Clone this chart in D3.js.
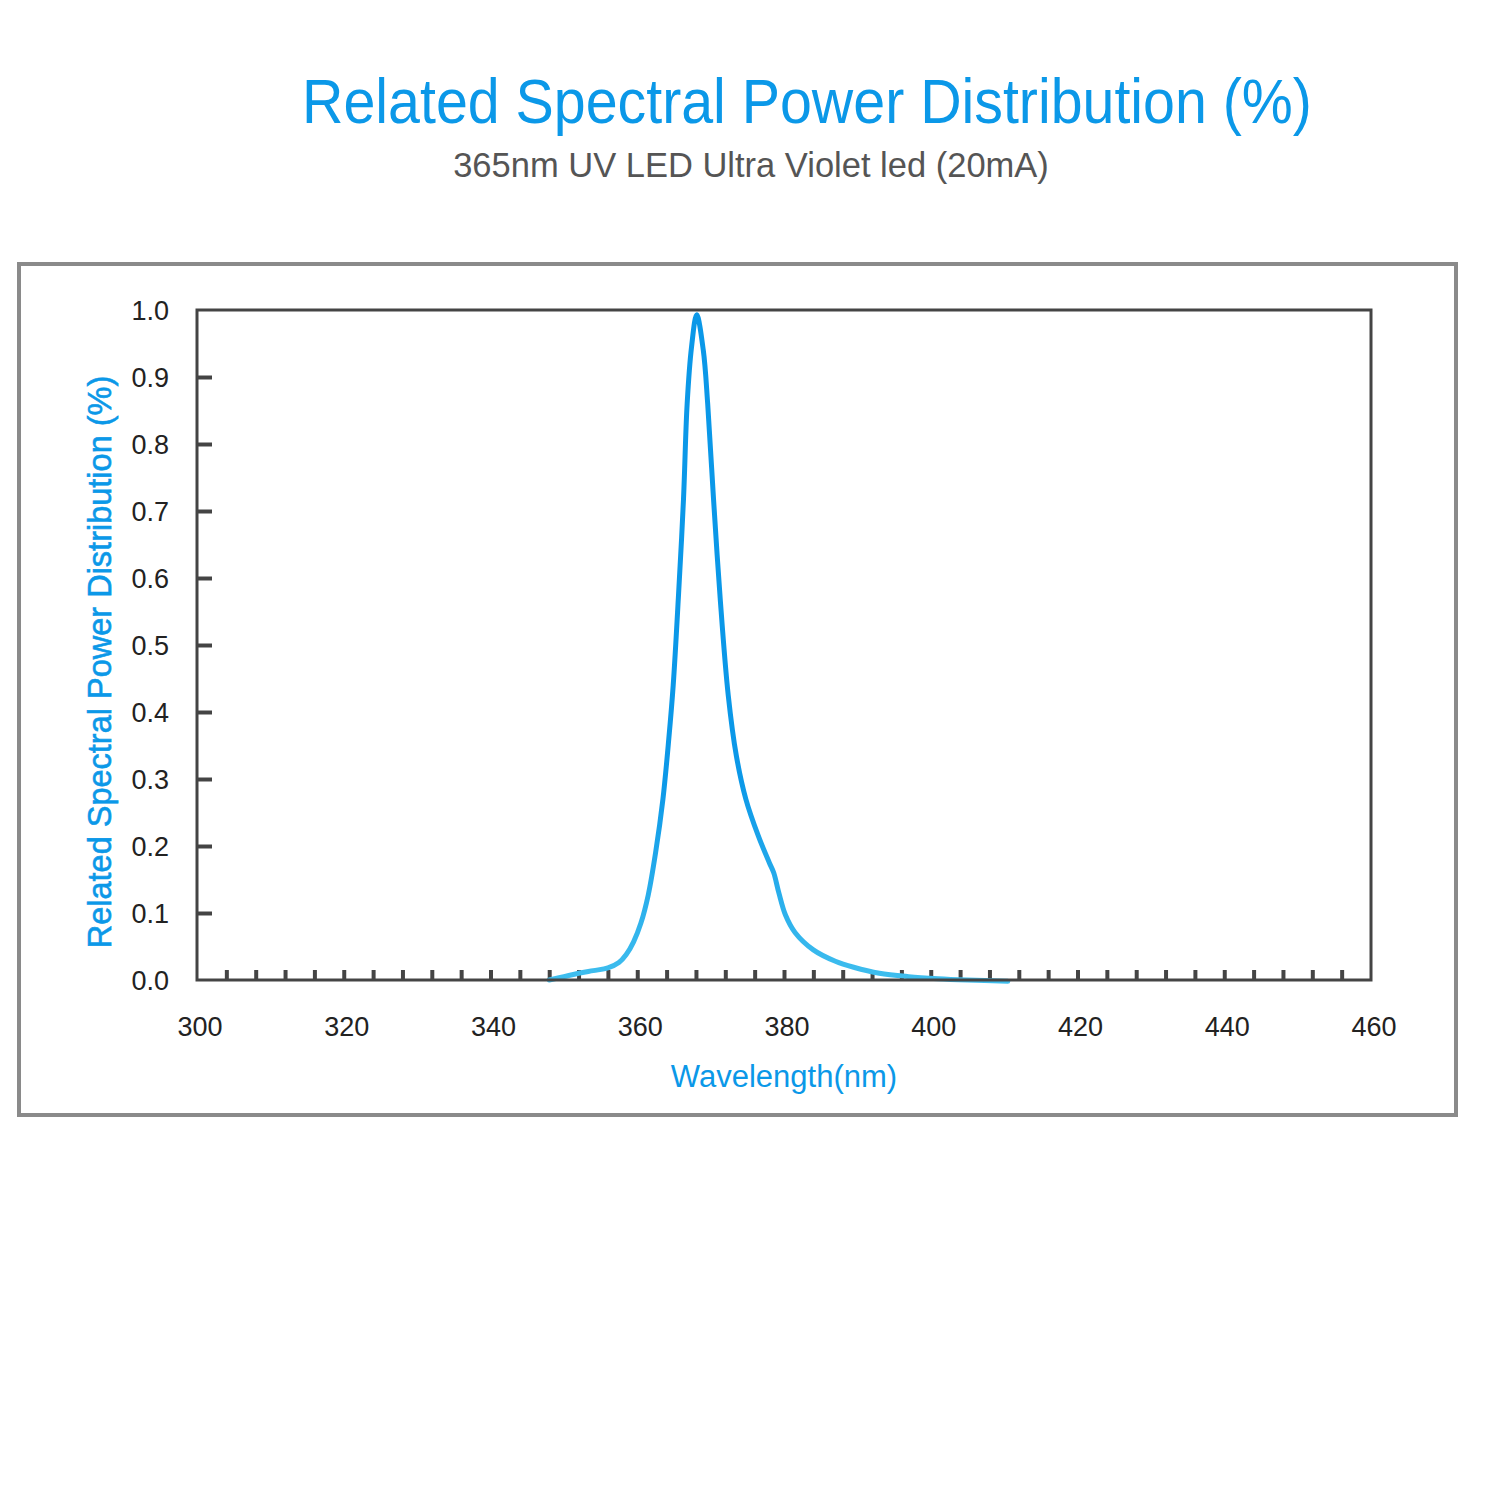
<!DOCTYPE html>
<html>
<head>
<meta charset="utf-8">
<script src="https://cdn.jsdelivr.net/npm/d3@7"></script>
<style>
  body { margin: 0; background: #fff; }
  text { font-family: "Liberation Sans", Arial, sans-serif; }
</style>
</head>
<body>
<div id="chart"></div>
<script>
// spectrum: wavelength (nm) and relative power
var wavelengths = [348, 350, 352, 354, 356, 357.5, 358.5, 359.5, 360.5, 361.5,
                   362.5, 363.5, 364.3, 364.9, 365.6, 366.3, 366.8, 367.4, 368.1,
                   369.0, 369.6, 370.4, 371.3, 372.4, 373.5, 374.8, 376.5, 378.0,
                   378.6, 379.3, 380.2, 381.5, 384.0, 387.0, 389.5, 393.0, 397.0,
                   401.0, 405.0, 410.5];
var power = [0.000, 0.005, 0.010, 0.014, 0.018, 0.026, 0.038, 0.057, 0.085, 0.127,
             0.190, 0.270, 0.360, 0.440, 0.570, 0.717, 0.860, 0.945, 0.993,
             0.940, 0.860, 0.717, 0.570, 0.425, 0.335, 0.270, 0.215, 0.175,
             0.160, 0.130, 0.097, 0.071, 0.045, 0.028, 0.019, 0.010, 0.005,
             0.002, 0.000, -0.002];

var xTickLabels = [300, 320, 340, 360, 380, 400, 420, 440, 460];
var xMinorTicks = d3.range(304, 457, 4);
var yTickLabels = [0, 0.1, 0.2, 0.3, 0.4, 0.5, 0.6, 0.7, 0.8, 0.9, 1.0];

var title = 'Related Spectral Power Distribution (%)';
var subtitle = '365nm UV LED Ultra Violet led (20mA)';
var xTitle = 'Wavelength(nm)';
var yTitle = 'Related Spectral Power Distribution (%)';

var blue = '#0b98e8';
var lightBlue = '#3fbeee';
var axisColor = '#444';

var width = 1500;
var height = 1500;
// plot box edges (don't call one "top", that's window.top)
var plotLeft = 197, plotRight = 1371, plotTop = 310, plotBottom = 980;

var svg = d3.select('#chart')
            .append('svg')
            .attr('width', width)
            .attr('height', height);

var x = d3.scaleLinear().domain([300, 460]).range([plotLeft, plotRight]);
var y = d3.scaleLinear().domain([0, 1]).range([plotBottom, plotTop]);

// titles
svg.append('text')
   .attr('transform', 'translate(807,123) scale(0.91,1)')
   .attr('text-anchor', 'middle')
   .attr('font-size', 63)
   .attr('fill', blue)
   .text(title);

svg.append('text')
   .attr('x', 751)
   .attr('y', 177)
   .attr('text-anchor', 'middle')
   .attr('font-size', 34.5)
   .attr('fill', '#555')
   .text(subtitle);

// outer frame
svg.append('rect')
   .attr('x', 19).attr('y', 264)
   .attr('width', 1437).attr('height', 851)
   .attr('fill', 'none')
   .attr('stroke', '#8a8a8a')
   .attr('stroke-width', 4);

// gradient for the curve, lighter towards the base
var grad = svg.append('defs').append('linearGradient')
              .attr('id', 'lineGrad')
              .attr('gradientUnits', 'userSpaceOnUse')
              .attr('x1', 0).attr('x2', 0)
              .attr('y1', y(0)).attr('y2', y(0.3));
grad.append('stop').attr('offset', '0%').attr('stop-color', lightBlue);
grad.append('stop').attr('offset', '100%').attr('stop-color', blue);

// y axis ticks inside, pointing right
svg.append('g')
   .attr('transform', 'translate(' + plotLeft + ',0)')
   .call(d3.axisRight(y).tickValues(yTickLabels.slice(1, -1)).tickSize(15).tickFormat(''))
   .call(g => g.select('.domain').remove())
   .call(g => g.selectAll('line').attr('stroke', axisColor).attr('stroke-width', 4));

// y tick labels
svg.append('g')
   .selectAll('text')
   .data(yTickLabels)
   .enter()
   .append('text')
   .attr('x', 169)
   .attr('y', d => y(d))
   .attr('dy', '0.36em')
   .attr('text-anchor', 'end')
   .attr('font-size', 27)
   .attr('fill', '#222')
   .text(d => d3.format('.1f')(d));

// x minor ticks, pointing up
svg.append('g')
   .attr('transform', 'translate(0,' + plotBottom + ')')
   .call(d3.axisTop(x).tickValues(xMinorTicks).tickSize(10).tickFormat(''))
   .call(g => g.select('.domain').remove())
   .call(g => g.selectAll('line').attr('stroke', axisColor).attr('stroke-width', 4));

// x tick labels
svg.append('g')
   .selectAll('text')
   .data(xTickLabels)
   .enter()
   .append('text')
   .attr('x', d => x(d) + 3)
   .attr('y', 1036)
   .attr('text-anchor', 'middle')
   .attr('font-size', 27)
   .attr('fill', '#222')
   .text(d => d);

// the curve
var pts = wavelengths.map((w, i) => [w, power[i]]);
var line = d3.line()
             .x(d => x(d[0]))
             .y(d => y(d[1]))
             .curve(d3.curveCatmullRom.alpha(0.5));

svg.append('path')
   .datum(pts)
   .attr('d', line)
   .attr('fill', 'none')
   .attr('stroke', 'url(#lineGrad)')
   .attr('stroke-width', 5)
   .attr('stroke-linejoin', 'round')
   .attr('stroke-linecap', 'round');

// plot frame on top
svg.append('rect')
   .attr('x', plotLeft).attr('y', plotTop)
   .attr('width', plotRight - plotLeft).attr('height', plotBottom - plotTop)
   .attr('fill', 'none')
   .attr('stroke', axisColor)
   .attr('stroke-width', 3);

// axis titles
svg.append('text')
   .attr('x', 784)
   .attr('y', 1087)
   .attr('text-anchor', 'middle')
   .attr('font-size', 31)
   .attr('fill', blue)
   .text(xTitle);

svg.append('text')
   .attr('transform', 'translate(111,662) rotate(-90)')
   .attr('text-anchor', 'middle')
   .attr('font-size', 32.5)
   .attr('fill', blue)
   .attr('stroke', blue)
   .attr('stroke-width', 0.6)
   .text(yTitle);
</script>
</body>
</html>
